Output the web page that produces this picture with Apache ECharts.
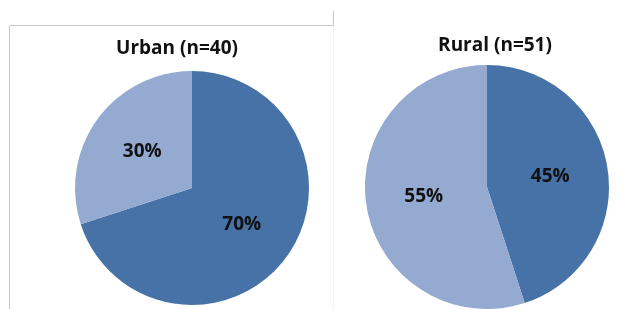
<!DOCTYPE html>
<html>
<head>
<meta charset="UTF-8">
<title>Urban vs Rural</title>
<script src="https://cdn.jsdelivr.net/npm/echarts@6/dist/echarts.min.js"></script>
<style>
html, body { margin: 0; padding: 0; background: #fff; }
</style>
</head>
<body>
	<div id="container" style="width:641px;height:309px;"></div>
	<script type="text/javascript">
	var categories = ['A', 'B'];          // dark slice first, light slice second
	var urbanValues = [70, 30];
	var ruralValues = [45, 55];
	var urbanTitle = 'Urban (n=40)';
	var ruralTitle = 'Rural (n=51)';

	var colors = ['#4672A8', '#94AAD0'];

	function toData(values) {
		var out = [];
		for (var i = 0; i < categories.length; i++) {
			out.push({ name: categories[i], value: values[i] });
		}
		return out;
	}

	var labelStyle = {
		show: true,
		position: 'inside',
		formatter: '{c}%',
		color: '#111',
		fontSize: 19,
		fontWeight: 'bold',
		fontFamily: 'Open Sans'
	};

	var myChart = echarts.init(document.getElementById('container'));
	var option = {
		animation: false,
		color: colors,
		title: [
			{
				text: urbanTitle,
				left: 172, top: 34, textAlign: 'center',
				textStyle: { fontSize: 19, fontWeight: 'bold', color: '#111', fontFamily: 'Open Sans' }
			},
			{
				text: ruralTitle,
				left: 490, top: 31, textAlign: 'center',
				textStyle: { fontSize: 19, fontWeight: 'bold', color: '#111', fontFamily: 'Open Sans' }
			}
		],
		graphic: [
			{ type: 'polyline', shape: { points: [[9.5, 309], [9.5, 25.5], [333.5, 25.5], [333.5, 11]] },
			  style: { stroke: '#c8c8c8', lineWidth: 1, fill: null } },
			{ type: 'line', shape: { x1: 333.5, y1: 26, x2: 333.5, y2: 309 },
			  style: { stroke: '#f2f2f2', lineWidth: 1 } }
		],
		series: [
			{
				name: 'Urban',
				type: 'pie',
				center: [192, 188],
				radius: 117,
				startAngle: 90,
				clockwise: true,
				label: labelStyle,
				labelLine: { show: false },
				itemStyle: { borderWidth: 0 },
				emphasis: { disabled: true },
				data: toData(urbanValues)
			},
			{
				name: 'Rural',
				type: 'pie',
				center: [487, 187],
				radius: 122,
				startAngle: 90,
				clockwise: true,
				label: labelStyle,
				labelLine: { show: false },
				itemStyle: { borderWidth: 0 },
				emphasis: { disabled: true },
				data: toData(ruralValues)
			}
		]
	};
	myChart.setOption(option);
	</script>
</body>
</html>
